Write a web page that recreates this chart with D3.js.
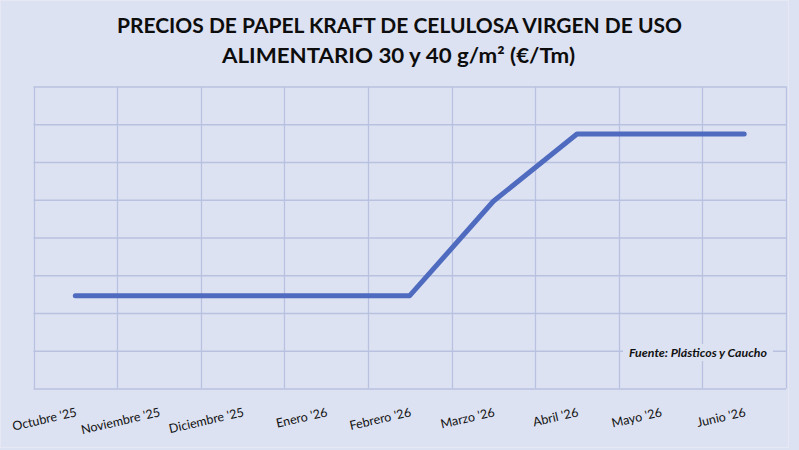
<!DOCTYPE html>
<html>
<head>
<meta charset="utf-8">
<script src="https://cdn.jsdelivr.net/npm/d3@7"></script>
<style>
  html, body { margin: 0; padding: 0; background: #dde2f2; }
  svg { display: block; }
</style>
</head>
<body>
<div id="chart"></div>
<script>
// Data (axis has no labels; scale chosen so the gridlines fall every 50)
const months = ["Octubre '25", "Noviembre '25", "Diciembre '25", "Enero '26", "Febrero '26",
  "Marzo '26", "Abril '26", "Mayo '26", "Junio '26"]
const prices = [1023, 1023, 1023, 1023, 1023, 1148, 1237, 1237, 1237]
const yTicks = [900, 950, 1000, 1050, 1100, 1150, 1200, 1250, 1300]
const titleLines = ['PRECIOS DE PAPEL KRAFT DE CELULOSA VIRGEN DE USO', 'ALIMENTARIO 30 y 40 g/m² (€/Tm)']
const source = 'Fuente: Plásticos y Caucho'

const width = 799
const height = 450
const margin = {top: 86.5, right: 13, bottom: 61.5, left: 33.5}

const svg = d3.select('#chart').append('svg')
  .attr('width', width)
  .attr('height', height)

svg.append('rect')
  .attr('x', 0.5).attr('y', 0.5)
  .attr('width', width - 11).attr('height', height - 3)
  .attr('fill', '#dde2f2')
  .attr('stroke', '#e6e9f4')

const x = d3.scaleBand()
  .domain(months)
  .range([margin.left, width - margin.right])
  .padding(0)

const y = d3.scaleLinear()
  .domain([yTicks[0], yTicks[yTicks.length - 1]])
  .range([height - margin.bottom, margin.top])

// horizontal gridlines
svg.append('g')
  .attr('class', 'ygrid')
  .attr('transform', `translate(${margin.left},0)`)
  .call(d3.axisLeft(y).tickValues(yTicks).tickSize(-(width - margin.right - margin.left)).tickFormat(''))
  .call(g => g.select('.domain').remove())
  .call(g => g.selectAll('line').attr('stroke', '#b8c1e0').attr('stroke-width', 1.3))

// vertical gridlines at band edges
const edges = months.map(m => x(m)).concat([x.range()[1]])
svg.append('g')
  .selectAll('line')
  .data(edges)
  .join('line')
  .attr('x1', d => Math.round(d) + 0.5)
  .attr('x2', d => Math.round(d) + 0.5)
  .attr('y1', margin.top)
  .attr('y2', height - margin.bottom)
  .attr('stroke', '#b8c1e0')
  .attr('stroke-width', 1.3)

// x labels
svg.append('g')
  .selectAll('text')
  .data(months)
  .join('text')
  .attr('transform', d => `translate(${x(d) + x.bandwidth() / 2 + 2},416) rotate(-13)`)
  .attr('text-anchor', 'end')
  .attr('font-family', 'Lato, "Open Sans", sans-serif')
  .attr('font-size', 12.5)
  .attr('fill', '#111')
  .text(d => d)

// line
const line = d3.line()
  .x((d, i) => x(months[i]) + x.bandwidth() / 2)
  .y(d => y(d))

svg.append('path')
  .datum(prices)
  .attr('d', line)
  .attr('fill', 'none')
  .attr('stroke', '#4f6bbf')
  .attr('stroke-width', 5)
  .attr('stroke-linecap', 'round')
  .attr('stroke-linejoin', 'round')

// source note with background box over the gridline
const src = svg.append('g').attr('transform', 'translate(767,357)')
const srcText = src.append('text')
  .attr('text-anchor', 'end')
  .attr('font-family', 'Lato, "Open Sans", sans-serif')
  .attr('font-size', 12)
  .attr('font-weight', 'bold')
  .attr('font-style', 'italic')
  .attr('fill', '#111')
  .attr('textLength', 138)
  .attr('lengthAdjust', 'spacingAndGlyphs')
  .text(source)
const bb = srcText.node().getBBox()
src.insert('rect', 'text')
  .attr('x', bb.x - 6).attr('y', bb.y - 1)
  .attr('width', bb.width + 12).attr('height', bb.height + 2)
  .attr('fill', '#dde2f2')

// title
const titleWidths = [565, 353]
svg.append('g')
  .selectAll('text')
  .data(titleLines)
  .join('text')
  .attr('x', (d, i) => i === 0 ? 117 : 222)
  .attr('y', (d, i) => 33 + i * 30)
  .attr('textLength', (d, i) => titleWidths[i])
  .attr('lengthAdjust', 'spacingAndGlyphs')
  .attr('font-family', 'Lato, "Open Sans", sans-serif')
  .attr('font-size', 21)
  .attr('font-weight', 'bold')
  .attr('fill', '#0d0d0d')
  .text(d => d)
</script>
</body>
</html>
